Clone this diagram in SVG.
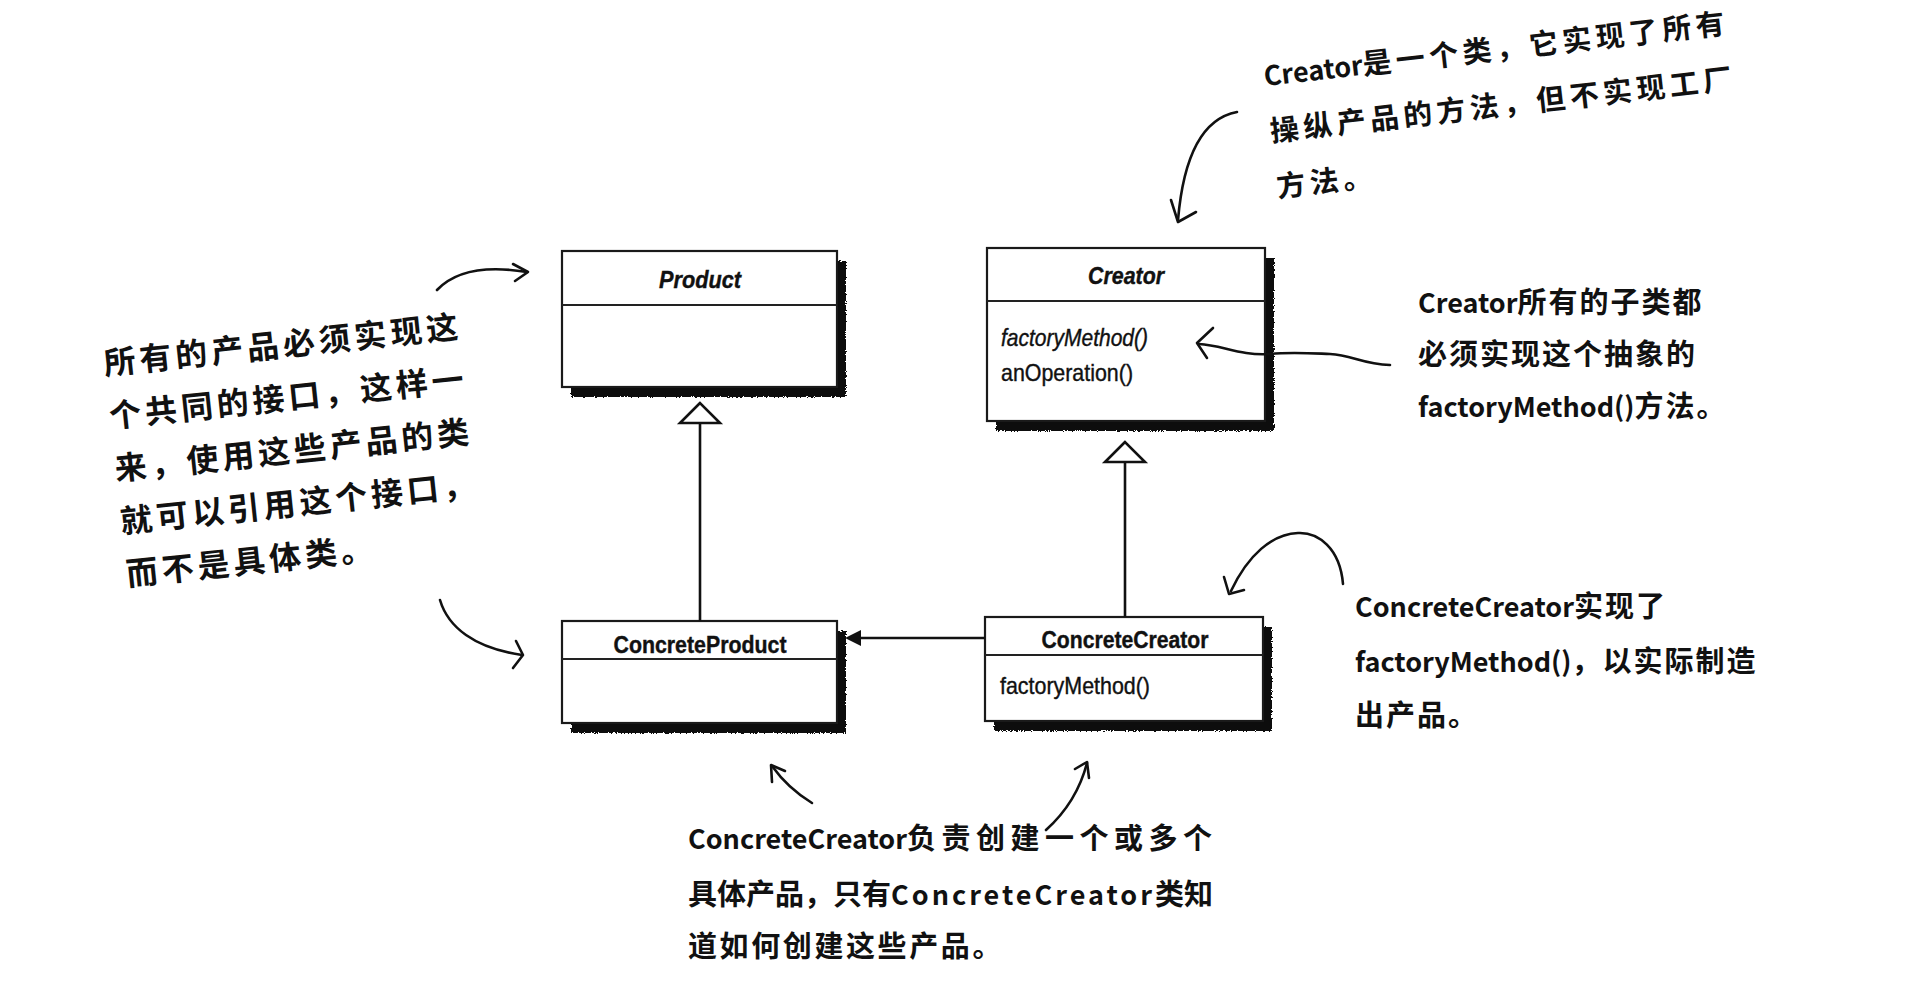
<svg xmlns="http://www.w3.org/2000/svg" width="1908" height="984" viewBox="0 0 1908 984">
<defs>
<style>
.box{fill:#fff;stroke:#1a1a1a;stroke-width:2.2}
.div{stroke:#222;stroke-width:2}
.shadow{fill:#111}
.uml{font-family:"Liberation Sans",Arial,sans-serif;font-size:24px;fill:#111;stroke:#111;stroke-width:0.4}
.b{font-weight:bold}
.i{font-style:italic}
.edge{stroke:#111;stroke-width:2.6;fill:none}
.tri{fill:#fff;stroke:#111;stroke-width:2.6;stroke-linejoin:miter}
.hand{stroke:#111;stroke-width:2.6;fill:none;stroke-linecap:round;stroke-linejoin:round}
.note{font-family:"Noto Sans CJK SC","Noto Sans CJK TC",sans-serif;font-weight:bold;font-size:29px;fill:#111;letter-spacing:2px}
.big{font-size:32px;letter-spacing:4px}
.wide{letter-spacing:4.5px}
.lat{font-size:27px;letter-spacing:0px}
</style>
<filter id="rough" x="-5%" y="-5%" width="110%" height="110%">
<feTurbulence type="fractalNoise" baseFrequency="0.7" numOctaves="2" result="n"/>
<feDisplacementMap in="SourceGraphic" in2="n" scale="4" xChannelSelector="R" yChannelSelector="G"/>
</filter>
</defs>
<rect width="1908" height="984" fill="#fff"/>

<g id="product">
<rect class="shadow" x="571" y="261" width="275" height="136" filter="url(#rough)"/>
<rect class="box" x="562" y="251" width="275" height="136"/>
<line class="div" x1="562" y1="305" x2="837" y2="305"/>
<text class="uml b i" x="700" y="288" text-anchor="middle" textLength="82" lengthAdjust="spacingAndGlyphs">Product</text>
</g>

<g id="creator">
<rect class="shadow" x="996" y="258" width="278" height="173" filter="url(#rough)"/>
<rect class="box" x="987" y="248" width="278" height="173"/>
<line class="div" x1="987" y1="301" x2="1265" y2="301"/>
<text class="uml b i" x="1126" y="284" text-anchor="middle" textLength="76" lengthAdjust="spacingAndGlyphs">Creator</text>
<text class="uml i" x="1001" y="346" textLength="147" lengthAdjust="spacingAndGlyphs">factoryMethod()</text>
<text class="uml" x="1001" y="381" textLength="132" lengthAdjust="spacingAndGlyphs">anOperation()</text>
</g>

<g id="concrete-product">
<rect class="shadow" x="571" y="631" width="275" height="102" filter="url(#rough)"/>
<rect class="box" x="562" y="621" width="275" height="102"/>
<line class="div" x1="562" y1="659" x2="837" y2="659"/>
<text class="uml b" x="700" y="653" text-anchor="middle" textLength="173" lengthAdjust="spacingAndGlyphs">ConcreteProduct</text>
</g>

<g id="concrete-creator">
<rect class="shadow" x="994" y="627" width="278" height="104" filter="url(#rough)"/>
<rect class="box" x="985" y="617" width="278" height="104"/>
<line class="div" x1="985" y1="655" x2="1263" y2="655"/>
<text class="uml b" x="1125" y="648" text-anchor="middle" textLength="167" lengthAdjust="spacingAndGlyphs">ConcreteCreator</text>
<text class="uml" x="1000" y="694" textLength="150" lengthAdjust="spacingAndGlyphs">factoryMethod()</text>
</g>

<g id="connectors">
<line class="edge" x1="700" y1="621" x2="700" y2="423"/>
<polygon class="tri" points="700,403 680,423 720,423"/>
<line class="edge" x1="1125" y1="617" x2="1125" y2="462"/>
<polygon class="tri" points="1125,442 1105,462 1145,462"/>
<line class="edge" x1="985" y1="638" x2="856" y2="638"/>
<polygon points="845,638 861,630 861,646" fill="#111"/>
</g>

<g id="annotation-arrows">
<path class="hand" d="M1237,112 C1205,118 1184,150 1178,220"/>
<path class="hand" d="M1171,200 L1178,222 L1196,212"/>
<path class="hand" d="M437,290 C454,272 484,265 527,272"/>
<path class="hand" d="M513,264 L528,272 L515,281"/>
<path class="hand" d="M440,600 C448,627 474,648 522,655"/>
<path class="hand" d="M516,641 L523,655 L513,668"/>
<path class="hand" d="M1390,365 C1362,364 1352,355 1330,354 C1305,353 1290,352 1270,354 C1240,356 1222,345 1199,344"/>
<path class="hand" d="M1213,328 L1197,343 L1207,358"/>
<path class="hand" d="M1343,584 C1340,548 1318,532 1298,533 C1272,534 1248,555 1231,591"/>
<path class="hand" d="M1224,577 L1229,594 L1244,590"/>
<path class="hand" d="M812,803 C794,792 782,780 772,766"/>
<path class="hand" d="M772,782 L771,765 L785,771"/>
<path class="hand" d="M1046,830 C1066,812 1080,790 1087,763"/>
<path class="hand" d="M1075,769 L1087,762 L1089,778"/>
</g>

<g id="note-creator" transform="rotate(-6.5 1265 86)">
<text class="note wide" x="1265" y="86"><tspan class="lat">Creator</tspan>是一个类，它实现了所有</text>
<text class="note wide" x="1265" y="142">操纵产品的方法，但不实现工厂</text>
<text class="note wide" x="1265" y="198">方法。</text>
</g>

<g id="note-product" transform="rotate(-6 105 375)">
<text class="note big" x="105" y="375">所有的产品必须实现这</text>
<text class="note big" x="105" y="428">个共同的接口，这样一</text>
<text class="note big" x="105" y="481">来，使用这些产品的类</text>
<text class="note big" x="105" y="534">就可以引用这个接口，</text>
<text class="note big" x="105" y="587">而不是具体类。</text>
</g>

<g id="note-subclass">
<text class="note" x="1418" y="313"><tspan class="lat">Creator</tspan>所有的子类都</text>
<text class="note" x="1418" y="365">必须实现这个抽象的</text>
<text class="note" x="1418" y="417"><tspan class="lat">factoryMethod()</tspan>方法。</text>
</g>

<g id="note-concrete-creator">
<text class="note" x="1355" y="617"><tspan class="lat">ConcreteCreator</tspan>实现了</text>
<text class="note" x="1355" y="672"><tspan class="lat">factoryMethod()</tspan>，以实际制造</text>
<text class="note" x="1355" y="726">出产品。</text>
</g>

<g id="note-bottom">
<text class="note" x="688" y="849" style="letter-spacing:5.5px"><tspan class="lat">ConcreteCreator</tspan>负责创建一个或多个</text>
<text class="note" x="688" y="905" style="letter-spacing:0px">具体产品，只有<tspan class="lat" style="letter-spacing:3px">ConcreteCreator</tspan>类知</text>
<text class="note" x="688" y="957" style="letter-spacing:2.6px">道如何创建这些产品。</text>
</g>
</svg>
